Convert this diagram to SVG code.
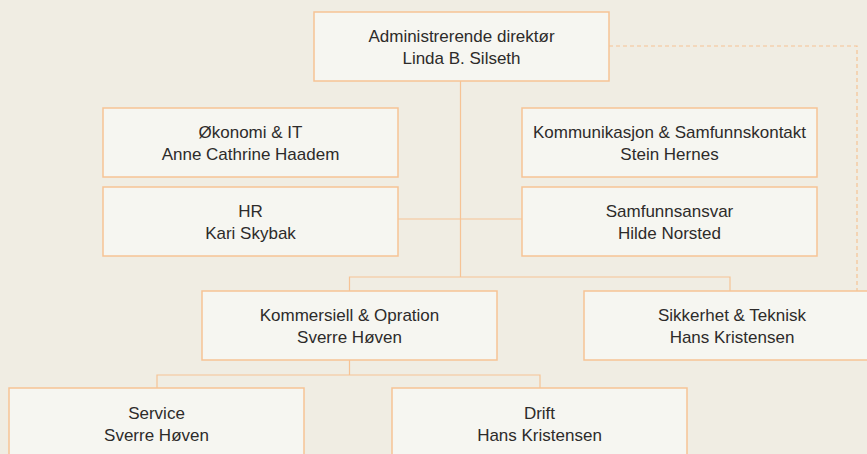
<svg xmlns="http://www.w3.org/2000/svg" width="867" height="454" viewBox="0 0 867 454">
<style>
.box{fill:#f6f6f1;stroke:#f6c395;stroke-width:1.5}
.t{font-family:"Liberation Sans",Arial,sans-serif;font-size:17px;fill:#2d2b2a;text-anchor:middle}
.c{fill:none;stroke:#f6c395;stroke-width:1.2}
.d{fill:none;stroke:#f6c395;stroke-width:1.2;stroke-dasharray:4 3}
</style>
<rect width="867" height="454" fill="#f0ede3"/>
<g id="connectors">
<path class="c" d="M460.5 81 V277 M349.5 291 V277 H730 V291"/>
<path class="c" d="M398 219 H522"/>
<path class="c" d="M349.5 360 V375 M157 388 V375 H540 V388"/>
<path class="d" d="M609 46 H857 V291"/>
</g>
<g id="n-ceo"><rect class="box" x="314" y="12" width="295" height="69"/><text class="t" x="461.5" y="42">Administrerende direktør</text><text class="t" x="461.5" y="64">Linda B. Silseth</text></g>
<g id="n-okonomi"><rect class="box" x="103" y="108" width="295" height="69"/><text class="t" x="250.5" y="138">Økonomi &amp; IT</text><text class="t" x="250.5" y="160">Anne Cathrine Haadem</text></g>
<g id="n-hr"><rect class="box" x="103" y="187" width="295" height="69"/><text class="t" x="250.5" y="217">HR</text><text class="t" x="250.5" y="239">Kari Skybak</text></g>
<g id="n-komm"><rect class="box" x="522" y="108" width="295" height="69"/><text class="t" x="669.5" y="138">Kommunikasjon &amp; Samfunnskontakt</text><text class="t" x="669.5" y="160">Stein Hernes</text></g>
<g id="n-samf"><rect class="box" x="522" y="187" width="295" height="69"/><text class="t" x="669.5" y="217">Samfunnsansvar</text><text class="t" x="669.5" y="239">Hilde Norsted</text></g>
<g id="n-kommersiell"><rect class="box" x="202" y="291" width="295" height="69"/><text class="t" x="349.5" y="321">Kommersiell &amp; Opration</text><text class="t" x="349.5" y="343">Sverre Høven</text></g>
<g id="n-sikkerhet"><rect class="box" x="584" y="291" width="295" height="69"/><text class="t" x="732" y="321">Sikkerhet &amp; Teknisk</text><text class="t" x="732" y="343">Hans Kristensen</text></g>
<g id="n-service"><rect class="box" x="9" y="388" width="295" height="69"/><text class="t" x="156.5" y="419">Service</text><text class="t" x="156.5" y="441">Sverre Høven</text></g>
<g id="n-drift"><rect class="box" x="392" y="388" width="295" height="69"/><text class="t" x="539.5" y="419">Drift</text><text class="t" x="539.5" y="441">Hans Kristensen</text></g>
</svg>
